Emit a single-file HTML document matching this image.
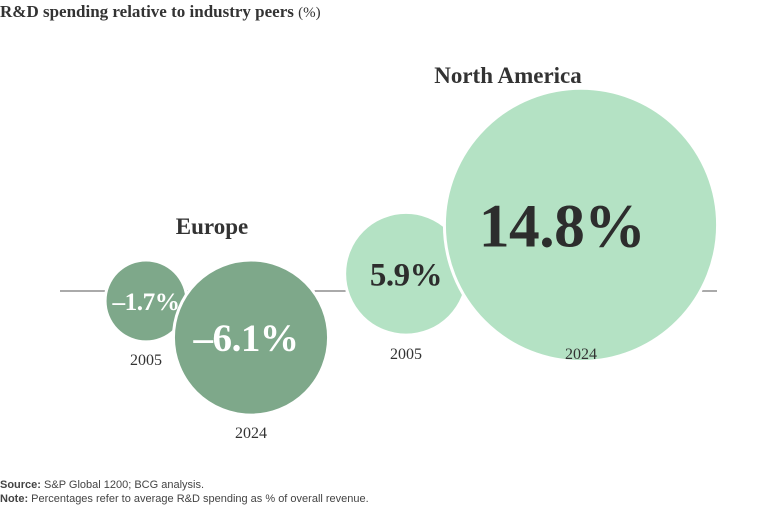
<!DOCTYPE html>
<html><head><meta charset="utf-8"><style>
body{margin:0;width:768px;height:506px;background:#fff;overflow:hidden;font-family:"Liberation Serif",serif;}
svg{position:absolute;left:0;top:0}
</style></head><body>
<svg width="768" height="506" viewBox="0 0 768 506">
<text x="0" y="17" font-family="Liberation Serif, serif" font-weight="bold" font-size="17" fill="#333">R&amp;D spending relative to industry peers <tspan font-weight="normal" font-size="15">(%)</tspan></text>
<line x1="60" y1="291" x2="717" y2="291" stroke="#555" stroke-width="1"/>
<g id="bubbles"></g>
<text x="212" y="234" text-anchor="middle" font-weight="bold" font-size="23" fill="#333">Europe</text>
<text x="508" y="83" text-anchor="middle" font-weight="bold" font-size="23" fill="#333">North America</text>
<text x="0" y="488" font-family="Liberation Sans, sans-serif" font-size="11" fill="#444"><tspan font-weight="bold">Source:</tspan> S&amp;P Global 1200; BCG analysis.</text>
<text x="0" y="502" font-family="Liberation Sans, sans-serif" font-size="11" fill="#444"><tspan font-weight="bold">Note:</tspan> Percentages refer to average R&amp;D spending as % of overall revenue.</text>
</svg>
<script>
const regions = ["Europe","Europe","North America","North America"];
const years = ["2005","2024","2005","2024"];
const values = [-1.7,-6.1,5.9,14.8];
const labels = ["\u20131.7%","\u20136.1%","5.9%","14.8%"];
const cx = [146,251,406,581];
function rScale(v){return v<0 ? 31.4*Math.sqrt(Math.abs(v)) : 13.1*Math.pow(Math.abs(v),0.87);}
function cyScale(v,r){return v<0 ? 260 + r : 274 - (r-61)*0.65;}
const g=document.getElementById('bubbles');
const ns="http://www.w3.org/2000/svg";
values.forEach((v,i)=>{
  const r=rScale(v), cy=cyScale(v,r);
  const c=document.createElementNS(ns,'circle');
  c.setAttribute('cx',cx[i]);c.setAttribute('cy',cy);c.setAttribute('r',r);
  c.setAttribute('fill',v<0?'#7ea88a':'#b4e2c4');
  c.setAttribute('stroke','#fff');c.setAttribute('stroke-width','3');
  
  
  g.appendChild(c);
  const fs=1.22*(8+0.31*r);
  const t=document.createElementNS(ns,'text');
  t.setAttribute('x',cx[i]-(r>100?19:(v<0&&r>60?5:0)));t.setAttribute('y',cy+fs*0.35);
  t.setAttribute('text-anchor','middle');t.setAttribute('font-weight','bold');
  t.setAttribute('font-size',fs);t.setAttribute('fill',v<0?'#fff':'#2d2d2d');
  t.setAttribute('letter-spacing','-0.5');
  t.textContent=labels[i];
  
  
  g.appendChild(t);
  const y=document.createElementNS(ns,'text');
  y.setAttribute('x',cx[i]);y.setAttribute('y',v<0?cy+r+23:359);
  y.setAttribute('text-anchor','middle');y.setAttribute('font-size','16');y.setAttribute('fill','#333');
  y.textContent=years[i];
  
  
  g.appendChild(y);
});
</script>
</body></html>
